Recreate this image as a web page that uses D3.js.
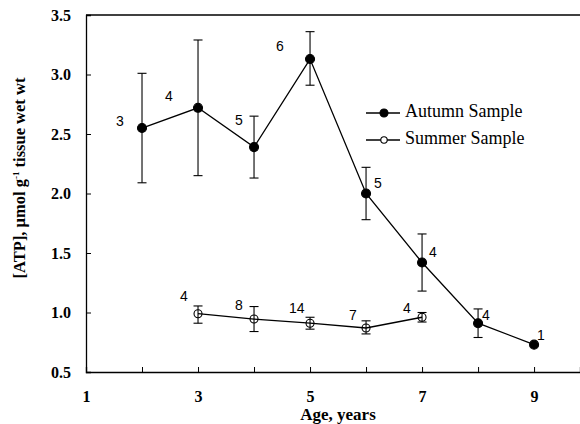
<!DOCTYPE html>
<html>
<head>
<meta charset="utf-8">
<script src="https://cdn.jsdelivr.net/npm/d3@7"></script>
<style>
  body { margin: 0; background: #fff; }
  svg { display: block; }
  .serif-b { font-family: "Liberation Serif", serif; font-weight: bold; font-size: 16px; }
  .x-title { font-size: 17px; }
  .y-title { font-size: 16.5px; }
  .legend-text { font-family: "Liberation Serif", serif; font-size: 18px; }
  .n-label { font-family: "Liberation Sans", sans-serif; font-size: 14px; }
  .tick text { font-family: "Liberation Serif", serif; font-weight: bold; font-size: 16px; fill: #000; }
</style>
</head>
<body>
<svg id="chart" width="580" height="424"></svg>
<script>
// data
const ages = [2, 3, 4, 5, 6, 7, 8, 9];
const autumnMean = [2.55, 2.72, 2.39, 3.13, 2.0, 1.42, 0.91, 0.73];
const autumnHigh = [3.01, 3.29, 2.65, 3.36, 2.22, 1.66, 1.03, null];
const autumnLow = [2.09, 2.15, 2.13, 2.91, 1.78, 1.18, 0.79, null];
const autumnN = ["3", "4", "5", "6", "5", "4", "4", "1"];

const summerAges = [3, 4, 5, 6, 7];
const summerMean = [0.99, 0.945, 0.91, 0.87, 0.96];
const summerHigh = [1.055, 1.05, 0.96, 0.93, 1.0];
const summerLow = [0.91, 0.84, 0.86, 0.82, 0.92];
const summerN = ["4", "8", "14", "7", "4"];

const xTicks = [1, 2, 3, 4, 5, 6, 7, 8, 9];
const xTickLabels = [1, 3, 5, 7, 9];
const yTicks = [0.5, 1.0, 1.5, 2.0, 2.5, 3.0, 3.5];

// where the n labels sit relative to their point (dx, dy)
const autumnLabelPos = [[-26, -6], [-33, -11], [-19, -26], [-34, -12], [8, -9], [7, -9], [4, -7], [3, -8]];
const summerLabelPos = [[-18, -16], [-19, -13], [-21, -14], [-17, -12], [-19, -8]];

const svg = d3.select("#chart");

const x = d3.scaleLinear().domain([1, 9.82]).range([86, 580]);
const y = d3.scaleLinear().domain([0.5, 3.5]).range([372, 15]);

// top frame line
svg.append("line")
  .attr("x1", x(1)).attr("x2", 580)
  .attr("y1", y(3.5)).attr("y2", y(3.5))
  .attr("stroke", "#000").attr("stroke-width", 1.3);

// axes
const xAxis = svg.append("g")
  .attr("transform", `translate(0,${y(0.5)})`)
  .call(d3.axisBottom(x).tickValues(xTicks).tickSize(-5).tickPadding(19)
    .tickFormat(d => xTickLabels.includes(d) ? d : ""));

const yAxis = svg.append("g")
  .attr("transform", `translate(${x(1)},0)`)
  .call(d3.axisLeft(y).tickValues(yTicks).tickSize(-5).tickPadding(15)
    .tickFormat(d3.format(".1f")));

[xAxis, yAxis].forEach(g => {
  g.attr("font-family", null).attr("font-size", null);
  g.select(".domain").attr("stroke", "#000").attr("stroke-width", 1.3);
  g.selectAll(".tick line").attr("stroke", "#000");
});

// axis titles
svg.append("text")
  .attr("class", "serif-b x-title")
  .attr("x", 338).attr("y", 420)
  .attr("text-anchor", "middle")
  .text("Age, years");

const yTitle = svg.append("text")
  .attr("class", "serif-b y-title")
  .attr("transform", "translate(25,178) rotate(-90)")
  .attr("text-anchor", "middle");
yTitle.append("tspan").text("[ATP], \u03bcmol g");
yTitle.append("tspan").attr("dy", -6).style("font-size", "9px").text("-1");
yTitle.append("tspan").attr("dy", 6).text(" tissue wet wt");

const autumn = ages.map((a, i) => ({ x: a, m: autumnMean[i], hi: autumnHigh[i], lo: autumnLow[i], n: autumnN[i], p: autumnLabelPos[i] }));
const summer = summerAges.map((a, i) => ({ x: a, m: summerMean[i], hi: summerHigh[i], lo: summerLow[i], n: summerN[i], p: summerLabelPos[i] }));

const line = d3.line().x(d => x(d.x)).y(d => y(d.m));

function drawSeries(data, filled, r) {
  const g = svg.append("g");
  g.append("path").datum(data)
    .attr("d", line).attr("fill", "none").attr("stroke", "#000").attr("stroke-width", 1.3);

  const eb = g.selectAll("g.err").data(data.filter(d => d.hi != null)).join("g");
  eb.append("line")
    .attr("x1", d => x(d.x)).attr("x2", d => x(d.x))
    .attr("y1", d => y(d.hi)).attr("y2", d => y(d.lo))
    .attr("stroke", "#000").attr("stroke-width", 1.1);
  ["hi", "lo"].forEach(k => {
    eb.append("line")
      .attr("x1", d => x(d.x) - 4.5).attr("x2", d => x(d.x) + 4.5)
      .attr("y1", d => y(d[k])).attr("y2", d => y(d[k]))
      .attr("stroke", "#000").attr("stroke-width", 1.1);
  });

  g.selectAll("circle").data(data).join("circle")
    .attr("cx", d => x(d.x)).attr("cy", d => y(d.m)).attr("r", r)
    .attr("fill", filled ? "#000" : "none")
    .attr("stroke", "#000").attr("stroke-width", 1.1);

  g.selectAll("text").data(data).join("text")
    .attr("class", "n-label")
    .attr("x", d => x(d.x) + d.p[0]).attr("y", d => y(d.m) + d.p[1])
    .attr("dominant-baseline", "middle")
    .text(d => d.n);
}

drawSeries(summer, false, 4);
drawSeries(autumn, true, 4.5);

// legend
const legendItems = [
  { label: "Autumn Sample", filled: true, r: 4, y: 113 },
  { label: "Summer Sample", filled: false, r: 3.2, y: 140 }
];
const lg = svg.append("g");
legendItems.forEach(it => {
  lg.append("line").attr("x1", 366).attr("x2", 400).attr("y1", it.y).attr("y2", it.y)
    .attr("stroke", "#000").attr("stroke-width", 1.3);
  lg.append("circle").attr("cx", 384).attr("cy", it.y).attr("r", it.r)
    .attr("fill", it.filled ? "#000" : "#fff").attr("stroke", "#000").attr("stroke-width", 1.1);
  lg.append("text").attr("class", "legend-text")
    .attr("x", 405).attr("y", it.y)
    .attr("dominant-baseline", "middle")
    .text(it.label);
});
</script>
</body>
</html>
